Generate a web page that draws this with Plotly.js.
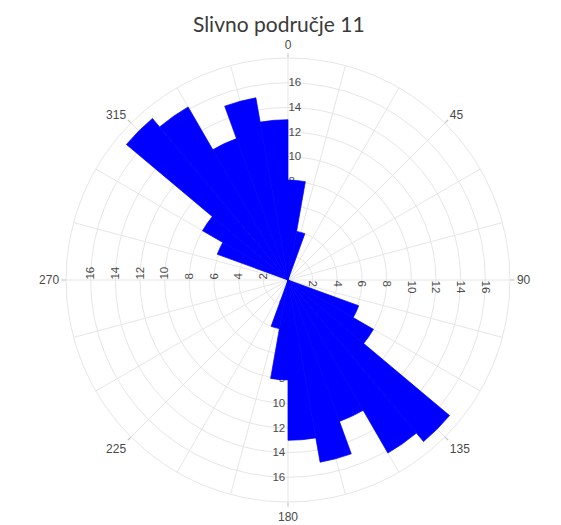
<!DOCTYPE html>
<html>
<head>
<meta charset="utf-8">
<script src="https://cdn.plot.ly/plotly-3.0.1.min.js"></script>
<style>html,body{margin:0;padding:0;background:#fff;}#chart{width:561px;height:525px;}</style>
</head>
<body>
<div id="chart"></div>
<script>
// Direction bins (centre of each 10° sector) and frequency (%)
const directions = [5, 15, 115, 125, 135, 145, 155, 165, 175, 185, 195, 295, 305, 315, 325, 335, 345, 355];
const frequency  = [8.1, 4.0, 6.1, 8.0, 17.1, 16.2, 12.2, 15.0, 13.0, 8.1, 4.0, 6.1, 8.0, 17.1, 16.2, 12.2, 15.0, 13.0];
const binWidth = 10;
const radialTicks = [2, 4, 6, 8, 10, 12, 14, 16];
const angleLabelVals = [0, 45, 90, 135, 180, 225, 270, 315];
const angleLabelText = ['0', '45', '90', '135', '180', '225', '270', '315'];
const gridAngles = [0,15,30,45,60,75,90,105,120,135,150,165,180,195,210,225,240,255,270,285,300,315,330,345];
const titleText = 'Slivno područje 11';

const dom = {x: [0.1176, 0.9091], y: [0.0438, 0.8895]};
const rRange = [0, 18];
const gridCol = '#e6e6e6';
const tickFont = {family: 'Liberation Sans, Arial, sans-serif', size: 11.5, color: '#4a4a4a'};
const angFont = {family: 'Liberation Sans, Arial, sans-serif', size: 12, color: '#4a4a4a'};

function overlayRadial(angle, tickangle) {
  return {
    domain: dom, bgcolor: 'rgba(0,0,0,0)',
    angularaxis: {rotation: 90, direction: 'clockwise', visible: false},
    radialaxis: {range: rRange, angle: angle, tickangle: tickangle, tickvals: radialTicks,
      showgrid: false, showline: false, ticks: '', tickfont: tickFont}
  };
}

const dummy = (sp) => ({type: 'scatterpolar', r: [0], theta: [0], mode: 'markers',
  marker: {opacity: 0}, hoverinfo: 'skip', showlegend: false, subplot: sp});

const data = [
  dummy('polar'), dummy('polar2'), dummy('polar3'), dummy('polar4'),
  {type: 'barpolar', r: frequency, theta: directions, width: directions.map(() => binWidth),
   marker: {color: '#0000ff', line: {width: 0.7, color: '#0000ff'}}, subplot: 'polar5', showlegend: false}
];

const layout = {
  width: 561, height: 525,
  margin: {l: 0, r: 0, t: 0, b: 0},
  paper_bgcolor: '#fff',
  showlegend: false,
  title: {text: titleText, x: 0.497, xanchor: 'center', y: 0.954, yanchor: 'middle',
    font: {family: 'Lato, Open Sans, sans-serif', size: 21, color: '#3a3a3a'}},
  polar: {
    domain: dom, bgcolor: '#fff',
    angularaxis: {rotation: 90, direction: 'clockwise', tickvals: gridAngles, showticklabels: false,
      ticks: '', showgrid: true, gridcolor: gridCol, gridwidth: 1, showline: true, linecolor: gridCol, linewidth: 1},
    radialaxis: {range: rRange, angle: 90, tickangle: 90, tickvals: radialTicks, showgrid: true, gridcolor: gridCol,
      gridwidth: 1, showline: false, ticks: '', tickfont: tickFont}
  },
  polar2: {
    domain: dom, bgcolor: 'rgba(0,0,0,0)',
    angularaxis: {rotation: 90, direction: 'clockwise', tickvals: angleLabelVals, ticktext: angleLabelText,
      showgrid: false, showline: false, ticks: 'outside', ticklen: 4, tickcolor: '#bbb',
      tickfont: angFont},
    radialaxis: {range: rRange, angle: 270, tickangle: -90, tickvals: radialTicks,
      showgrid: false, showline: false, ticks: '', tickfont: tickFont}
  },
  polar3: overlayRadial(0, 90),
  polar4: overlayRadial(180, 90),
  polar5: {
    domain: dom, bgcolor: 'rgba(0,0,0,0)',
    angularaxis: {rotation: 90, direction: 'clockwise', visible: false},
    radialaxis: {range: rRange, visible: false}
  }
};

Plotly.newPlot('chart', data, layout, {displayModeBar: false, staticPlot: true});
</script>
</body>
</html>
